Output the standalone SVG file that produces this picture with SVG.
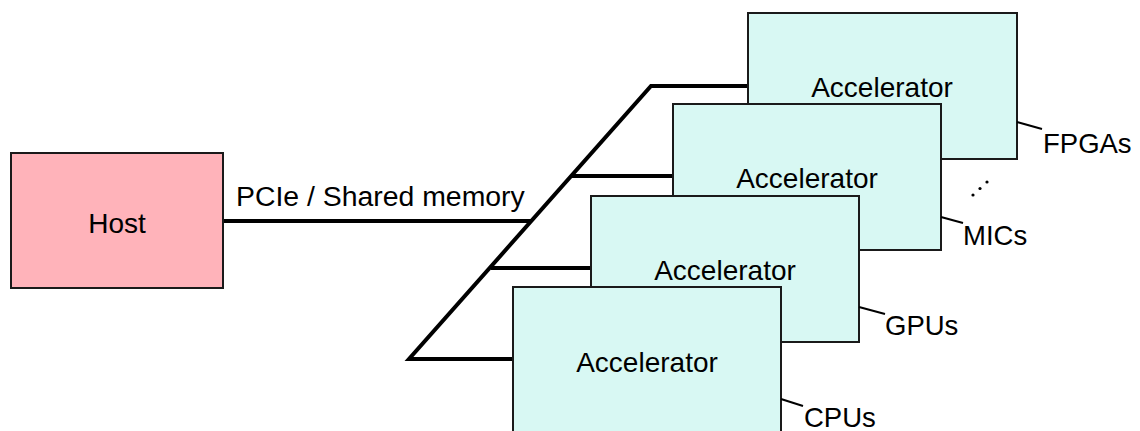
<svg xmlns="http://www.w3.org/2000/svg" width="1140" height="431" viewBox="0 0 1140 431">
<style>
.acc{fill:#d8f8f3;stroke:#1a1a1a;stroke-width:2}
.host{fill:#ffb3ba;stroke:#1a1a1a;stroke-width:2}
.bus{fill:none;stroke:#000;stroke-width:4;stroke-linejoin:miter}
.lead{fill:none;stroke:#000;stroke-width:2}
text{font-family:"Liberation Sans",Arial,sans-serif;fill:#000}
.t{font-size:28px;text-anchor:middle}
.l{font-size:27.5px}
</style>
<rect width="1140" height="431" fill="#fff"/>
<g id="connectors">
<polyline class="bus" points="748,86 651,86 409,359 513,359"/>
<line class="bus" x1="572" y1="176" x2="673" y2="176"/>
<line class="bus" x1="491" y1="268" x2="591" y2="268"/>
<line class="bus" x1="223" y1="221" x2="531" y2="221"/>
<text class="l" x="236" y="206" style="font-size:28.4px">PCIe / Shared memory</text>
</g>
<g id="host">
<rect class="host" x="11" y="153" width="212" height="135"/>
<text class="t" x="117" y="233">Host</text>
</g>
<g id="acc-fpga">
<rect class="acc" x="748" y="13" width="269" height="146"/>
<text class="t" x="882" y="97">Accelerator</text>
<line class="lead" x1="1017" y1="122" x2="1042" y2="129"/>
<text class="l" x="1043" y="153">FPGAs</text>
</g>
<g id="dots">
<circle cx="973" cy="195" r="1.6"/>
<circle cx="980" cy="188.5" r="1.6"/>
<circle cx="987" cy="182" r="1.6"/>
</g>
<g id="acc-mic">
<rect class="acc" x="673" y="104" width="268" height="146"/>
<text class="t" x="807" y="188">Accelerator</text>
<line class="lead" x1="941" y1="217" x2="963" y2="223"/>
<text class="l" x="963" y="245">MICs</text>
</g>
<g id="acc-gpu">
<rect class="acc" x="591" y="196" width="268" height="146"/>
<text class="t" x="725" y="280">Accelerator</text>
<line class="lead" x1="859" y1="307" x2="885" y2="314"/>
<text class="l" x="885" y="335">GPUs</text>
</g>
<g id="acc-cpu">
<rect class="acc" x="513" y="287" width="268" height="150"/>
<text class="t" x="647" y="372">Accelerator</text>
<line class="lead" x1="781" y1="399" x2="803" y2="406"/>
<text class="l" x="804" y="427">CPUs</text>
</g>
</svg>
